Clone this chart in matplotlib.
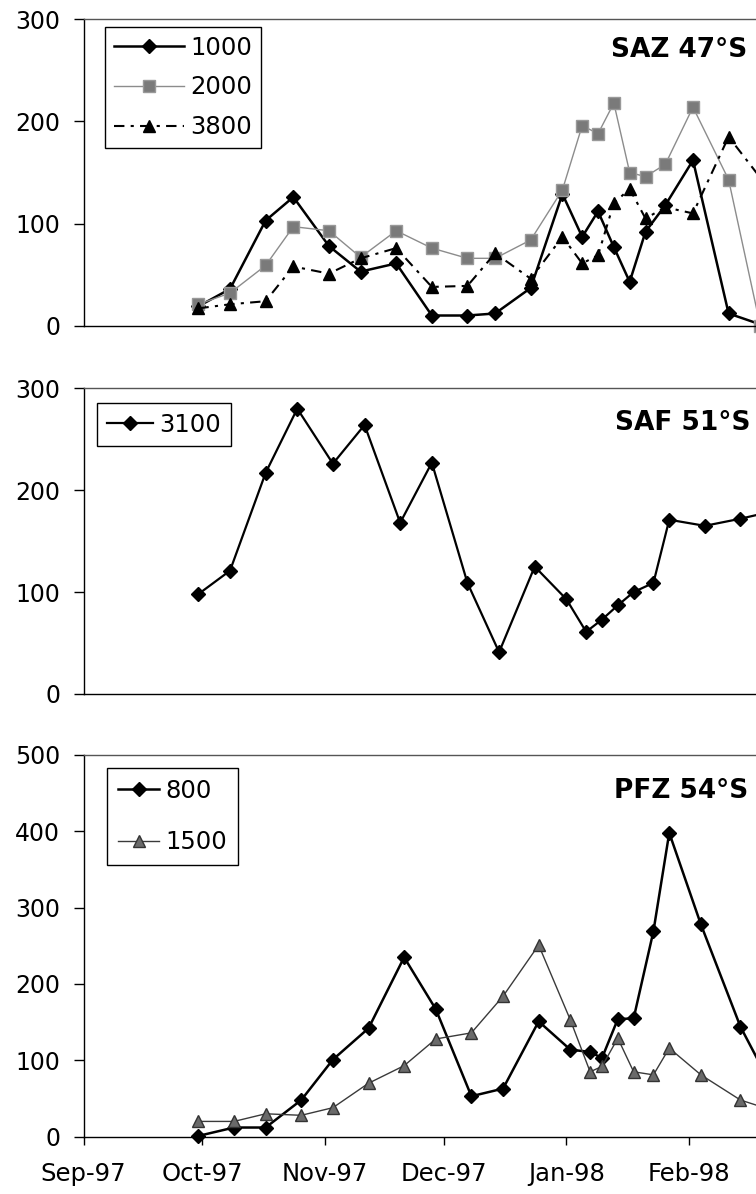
import numpy as np
import matplotlib
matplotlib.use("Agg")
import matplotlib.pyplot as plt
import matplotlib.dates as mdates

# SAZ 47S trap (1000, 2000, 3800 m)
saz_dates = ['1997-09-30', '1997-10-08', '1997-10-17', '1997-10-24', '1997-11-02',
             '1997-11-10', '1997-11-19', '1997-11-28', '1997-12-07', '1997-12-14',
             '1997-12-23', '1997-12-31', '1998-01-05', '1998-01-09', '1998-01-13',
             '1998-01-17', '1998-01-21', '1998-01-26', '1998-02-02', '1998-02-11',
             '1998-02-20']
saz_2000_dates = saz_dates[:-1] + ['1998-02-19']
saz_1000 = [19, 36, 103, 126, 78, 53, 61, 10, 10, 12, 37, 129, 87, 112, 77, 43, 92, 118, 162, 12, 0]
saz_2000 = [21, 32, 59, 97, 93, 67, 93, 76, 66, 66, 84, 133, 196, 188, 218, 150, 146, 158, 214, 143, 0]
saz_3800 = [17, 21, 24, 58, 51, 66, 76, 38, 39, 71, 46, 87, 61, 69, 120, 134, 105, 116, 110, 185, 140]

# SAF 51S trap (3100 m)
saf_dates = ['1997-09-30', '1997-10-08', '1997-10-17', '1997-10-25', '1997-11-03',
             '1997-11-11', '1997-11-20', '1997-11-28', '1997-12-07', '1997-12-15',
             '1997-12-24', '1998-01-01', '1998-01-06', '1998-01-10', '1998-01-14',
             '1998-01-18', '1998-01-23', '1998-01-27', '1998-02-05', '1998-02-14',
             '1998-02-23']
saf_3100 = [98, 121, 217, 280, 226, 264, 168, 227, 109, 41, 125, 93, 61, 73, 87, 100, 109, 171, 165, 172, 180]

# PFZ 54S trap (800, 1500 m)
pfz_dates = ['1997-09-30', '1997-10-09', '1997-10-17', '1997-10-26', '1997-11-03',
             '1997-11-12', '1997-11-21', '1997-11-29', '1997-12-08', '1997-12-16',
             '1997-12-25', '1998-01-02', '1998-01-07', '1998-01-10', '1998-01-14',
             '1998-01-18', '1998-01-23', '1998-01-27', '1998-02-04', '1998-02-14',
             '1998-02-23']
pfz_800 = [1, 12, 12, 48, 101, 142, 235, 167, 53, 63, 151, 114, 111, 103, 154, 155, 269, 398, 278, 144, 55]
pfz_1500 = [20, 20, 30, 28, 38, 70, 93, 128, 136, 184, 251, 153, 85, 92, 129, 85, 81, 116, 81, 48, 33]

x_start, x_end = '1997-09-01', '1998-02-18'

plt.rcParams['font.family'] = ['DejaVu Sans']

def d(dates):
    return np.array(dates, dtype='datetime64[D]')

def setup_axes(ax, ymax, show_x):
    ax.set_xlim(np.datetime64(x_start), np.datetime64(x_end))
    ax.set_ylim(0, ymax)
    ax.set_yticks(np.arange(0, ymax + 1, 100))
    ax.spines['right'].set_visible(False)
    for s in ['left', 'bottom', 'top']:
        ax.spines[s].set_linewidth(1.0)
    ax.spines['top'].set_color('#555555')
    ax.tick_params(axis='y', direction='out', length=7, width=1, pad=10, labelsize=17)
    ax.xaxis.set_major_locator(mdates.MonthLocator())
    ax.xaxis.set_major_formatter(mdates.DateFormatter('%b-%y'))
    if show_x:
        ax.tick_params(axis='x', direction='out', length=6, width=1, pad=12, labelsize=17.5)
    else:
        ax.tick_params(axis='x', length=0, labelbottom=False)

def add_legend(ax, anchor, handlelength, labelspacing, borderpad):
    leg = ax.legend(loc='upper left', bbox_to_anchor=anchor, borderaxespad=0,
                    fancybox=False, edgecolor='black', framealpha=1, fontsize=17.5,
                    handlelength=handlelength, handletextpad=0.25,
                    labelspacing=labelspacing, borderpad=borderpad)
    leg.get_frame().set_linewidth(1.0)

fig = plt.figure(figsize=(7.56, 11.94), dpi=100)
left, width = 0.1106, 0.8898

# top panel
ax1 = fig.add_axes([left, 0.7272, width, 0.2566])
ax1.plot(d(saz_dates), saz_1000, color='black', lw=1.8, marker='D', ms=7,
         label='1000', clip_on=False)
ax1.plot(d(saz_2000_dates), saz_2000, color='#8c8c8c', lw=1.0, marker='s', ms=8.5,
         mfc='#7a7a7a', mec='#999999', label='2000', clip_on=False)
ax1.plot(d(saz_dates), saz_3800, color='black', lw=1.5, ls=(0, (5, 3, 1.5, 3)),
         marker='^', ms=9, label='3800', clip_on=False)
setup_axes(ax1, 300, False)
add_legend(ax1, (0.032, 0.975), 2.9, 0.65, 0.35)
ax1.text(0.9866, 0.877, 'SAZ 47°S', transform=ax1.transAxes, ha='right',
         va='baseline', fontsize=19, fontweight='bold')

# middle panel
ax2 = fig.add_axes([left, 0.4188, width, 0.2560])
ax2.plot(d(saf_dates), saf_3100, color='black', lw=1.6, marker='D', ms=7,
         label='3100', clip_on=False)
setup_axes(ax2, 300, False)
add_legend(ax2, (0.020, 0.952), 1.9, 0.5, 0.4)
ax2.text(0.9910, 0.8636, 'SAF 51°S', transform=ax2.transAxes, ha='right',
         va='baseline', fontsize=19, fontweight='bold')

# bottom panel
ax3 = fig.add_axes([left, 0.0480, width, 0.3197])
ax3.plot(d(pfz_dates), pfz_800, color='black', lw=1.8, marker='D', ms=7,
         label='800', clip_on=False)
ax3.plot(d(pfz_dates), pfz_1500, color='#3a3a3a', lw=1.0, marker='^', ms=9,
         mfc='#6a6a6a', mec='#333333', label='1500', clip_on=False)
setup_axes(ax3, 500, True)
add_legend(ax3, (0.035, 0.966), 1.7, 1.13, 0.45)
ax3.text(0.988, 0.8873, 'PFZ 54°S', transform=ax3.transAxes, ha='right',
         va='baseline', fontsize=19, fontweight='bold')

fig.savefig('out.png', dpi=100)
